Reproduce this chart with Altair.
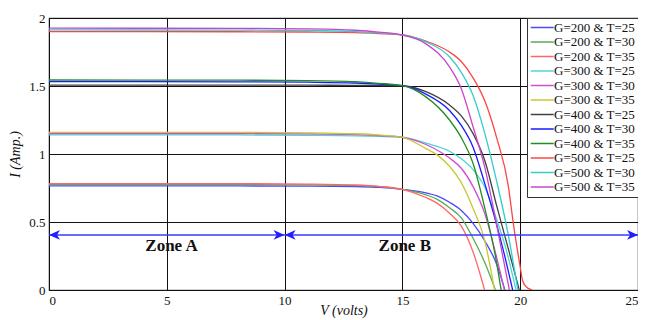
import altair as alt
import pandas as pd

LABELS = ["G=200 & T=25", "G=200 & T=30", "G=200 & T=35",
          "G=300 & T=25", "G=300 & T=30", "G=300 & T=35",
          "G=400 & T=25", "G=400 & T=30", "G=400 & T=35",
          "G=500 & T=25", "G=500 & T=30", "G=500 & T=35"]
COLORS = ["#4a4aff", "#5aaa5a", "#ff6666", "#4cd6d6", "#d24cd2", "#c8c832",
          "#404040", "#1a1aff", "#1f8f1f", "#ff4444", "#33cccc", "#cc44cc"]

# G = 200
V_G200_T25 = [0, 8, 11, 13, 14, 15, 16, 16.5, 17, 17.5, 18, 18.5, 19, 19.35]
I_G200_T25 = [0.765, 0.765, 0.764, 0.760, 0.755, 0.740, 0.715, 0.69, 0.645, 0.585, 0.49, 0.36, 0.19, 0.0]
V_G200_T30 = [0, 8, 11, 13, 14, 15, 16, 16.5, 17, 17.5, 18, 18.5, 18.95]
I_G200_T30 = [0.775, 0.775, 0.773, 0.768, 0.760, 0.740, 0.70, 0.665, 0.605, 0.53, 0.38, 0.20, 0.0]
V_G200_T35 = [0, 8, 11, 13, 14, 15, 16, 16.5, 17, 17.5, 18, 18.49]
I_G200_T35 = [0.782, 0.782, 0.779, 0.772, 0.762, 0.740, 0.68, 0.635, 0.565, 0.47, 0.28, 0.0]
# G = 300
V_G300_T25 = [0, 8, 11, 13, 14, 15, 16, 17, 17.5, 18, 18.5, 19, 19.4, 19.82]
I_G300_T25 = [1.140, 1.140, 1.138, 1.134, 1.130, 1.123, 1.08, 1.02, 0.965, 0.885, 0.755, 0.52, 0.30, 0.0]
V_G300_T30 = [0, 8, 11, 13, 14, 15, 16, 17, 17.5, 18, 18.5, 19, 19.33]
I_G300_T30 = [1.150, 1.150, 1.148, 1.142, 1.135, 1.123, 1.07, 0.97, 0.895, 0.76, 0.56, 0.24, 0.0]
V_G300_T35 = [0, 8, 11, 13, 14, 15, 16, 16.5, 17, 17.5, 18, 18.5, 18.91]
I_G300_T35 = [1.159, 1.159, 1.156, 1.149, 1.140, 1.123, 1.04, 0.99, 0.91, 0.79, 0.60, 0.36, 0.0]
# G = 400
V_G400_T25 = [0, 8, 11, 13, 14, 15, 16, 17, 17.5, 18, 18.5, 19, 19.5, 19.96]
I_G400_T25 = [1.507, 1.507, 1.506, 1.505, 1.504, 1.502, 1.458, 1.36, 1.28, 1.15, 0.95, 0.62, 0.30, 0.0]
V_G400_T30 = [0, 8, 11, 13, 14, 15, 16, 17, 17.5, 18, 18.5, 19, 19.3, 19.68]
I_G400_T30 = [1.532, 1.531, 1.528, 1.522, 1.514, 1.502, 1.44, 1.32, 1.21, 1.05, 0.78, 0.48, 0.28, 0.0]
V_G400_T35 = [0, 8, 11, 13, 14, 15, 16, 17, 17.5, 18, 18.5, 19, 19.19]
I_G400_T35 = [1.544, 1.543, 1.540, 1.532, 1.520, 1.502, 1.42, 1.25, 1.12, 0.93, 0.60, 0.20, 0.0]
# G = 500
V_G500_T25 = [0, 8, 11, 13, 14, 15, 16, 17, 17.5, 18, 18.5, 19, 19.5, 19.7, 20.0, 20.1, 20.25, 20.5]
I_G500_T25 = [1.900, 1.899, 1.897, 1.893, 1.886, 1.875, 1.83, 1.75, 1.68, 1.56, 1.39, 1.12, 0.76, 0.50, 0.17, 0.07, 0.025, 0.0]
V_G500_T30 = [0, 8, 11, 13, 14, 15, 16, 17, 17.5, 18, 18.5, 19, 19.5, 19.9]
I_G500_T30 = [1.912, 1.911, 1.908, 1.900, 1.890, 1.875, 1.825, 1.715, 1.60, 1.43, 1.15, 0.80, 0.40, 0.0]
V_G500_T35 = [0, 8, 11, 13, 14, 15, 16, 17, 17.5, 18, 18.5, 19, 19.54]
I_G500_T35 = [1.925, 1.924, 1.920, 1.910, 1.896, 1.875, 1.81, 1.64, 1.48, 1.20, 0.90, 0.48, 0.0]

CURVES = [(V_G200_T25, I_G200_T25), (V_G200_T30, I_G200_T30), (V_G200_T35, I_G200_T35),
          (V_G300_T25, I_G300_T25), (V_G300_T30, I_G300_T30), (V_G300_T35, I_G300_T35),
          (V_G400_T25, I_G400_T25), (V_G400_T30, I_G400_T30), (V_G400_T35, I_G400_T35),
          (V_G500_T25, I_G500_T25), (V_G500_T30, I_G500_T30), (V_G500_T35, I_G500_T35)]

X_TICKS = [0, 5, 10, 15, 20, 25]
Y_TICKS = [0, 0.5, 1, 1.5, 2]

ZONE_NAMES = ["Zone A", "Zone B"]
ZONE_START = [0, 10]
ZONE_END = [10, 25]
ZONE_LABEL_V = [5.2, 15.1]
ZONE_LABEL_I = [0.325, 0.325]
ZONE_ARROW_I = 0.405

rows = []
for k, (vs, cs) in enumerate(CURVES):
    for j, (v, c) in enumerate(zip(vs, cs)):
        rows.append({"series": LABELS[k], "V": v, "I": c, "ord": j})
df = pd.DataFrame(rows)

zones = pd.DataFrame({"name": ZONE_NAMES, "v0": ZONE_START, "v1": ZONE_END,
                      "lv": ZONE_LABEL_V, "li": ZONE_LABEL_I,
                      "ai": [ZONE_ARROW_I] * len(ZONE_NAMES)})

FONT = "Liberation Serif"
xs = alt.Scale(domain=[0, 25], nice=False, zero=False)
ys = alt.Scale(domain=[0, 2], nice=False, zero=False)

X_AXIS = alt.Axis(
    values=X_TICKS, title="V (volts)", grid=True, gridColor="#111", gridWidth=1,
    ticks=False, domain=False, labelFont=FONT, labelFontSize=13, labelColor="#111",
    labelPadding=4, titleFont=FONT, titleFontSize=14, titleFontStyle="italic",
    titleFontWeight="normal", titleColor="#111", titleY=13, titleBaseline="top")
Y_AXIS = alt.Axis(
    values=Y_TICKS, format="~g", title="I (Amp.)", grid=True, gridColor="#111",
    gridWidth=1, ticks=False, domain=False, labelFont=FONT, labelFontSize=13,
    labelColor="#111", labelPadding=4, titleFont=FONT, titleFontSize=14,
    titleFontStyle="italic", titleFontWeight="normal", titleColor="#111",
    titlePadding=6)


def X(field):
    return alt.X(field, scale=xs, axis=X_AXIS, title="V (volts)")


def Y(field):
    return alt.Y(field, scale=ys, axis=Y_AXIS, title="I (Amp.)")


lines = alt.Chart(df).mark_line(strokeWidth=1.3, interpolate="monotone", clip=True).encode(
    x=X("V:Q"),
    y=Y("I:Q"),
    color=alt.Color("series:N", sort=LABELS,
                    scale=alt.Scale(domain=LABELS, range=COLORS),
                    legend=alt.Legend(title=None, orient="none", legendX=478, legendY=0,
                                      symbolType="M-1,0L3,0", symbolSize=132,
                                      symbolStrokeWidth=1.5, labelFont=FONT,
                                      labelFontSize=13, labelColor="#111",
                                      fillColor="white", strokeColor="#333",
                                      padding=3, rowPadding=0.5, labelOffset=11)),
    order="ord:Q",
)

zone_rule = alt.Chart(zones).mark_rule(color="#3a3aff", strokeWidth=1.5).encode(
    x=X("v0:Q"), x2="v1:Q", y=Y("ai:Q"),
)

left_heads = alt.Chart(zones).mark_point(
    shape="M0,0L2,-0.9L1.45,0L2,0.9Z", size=121, filled=True, color="#1f1fff", opacity=1
).encode(x=X("v0:Q"), y=Y("ai:Q"))

right_heads = alt.Chart(zones).mark_point(
    shape="M0,0L-2,-0.9L-1.45,0L-2,0.9Z", size=121, filled=True, color="#1f1fff", opacity=1
).encode(x=X("v1:Q"), y=Y("ai:Q"))

zone_text = alt.Chart(zones).mark_text(
    font=FONT, fontSize=17, fontWeight="bold", color="#111"
).encode(x=X("lv:Q"), y=Y("li:Q"), text="name:N")

chart = alt.layer(lines, zone_rule, left_heads, right_heads, zone_text).properties(
    width=589, height=272,
    autosize=alt.AutoSizeParams(type="none"),
    padding={"left": 41, "top": 10, "right": 0, "bottom": 30},
    background="white",
).configure_view(stroke="#444", strokeWidth=1.2)

chart.save("out.html", embed_options={"renderer": "svg", "actions": False})
